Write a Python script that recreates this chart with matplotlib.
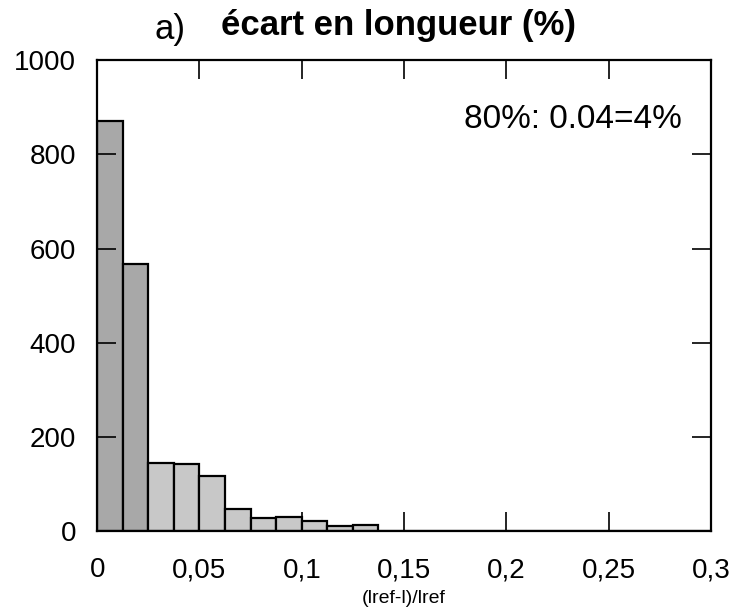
import matplotlib.pyplot as plt
import numpy as np

plt.rcParams['font.family'] = ['Liberation Sans', 'DejaVu Sans']

# histogram of relative length error, bin width 0.0125
bin_edges = np.arange(0, 0.3 + 0.0125 / 2, 0.0125)
counts = [870, 567, 144, 142, 118, 47, 28, 30, 21, 11, 14, 1,
          1, 1, 0, 0, 0, 1, 1, 0, 0, 1, 1, 0]
xticks = [0, 0.05, 0.1, 0.15, 0.2, 0.25, 0.3]
xticklabels = ['0', '0,05', '0,1', '0,15', '0,2', '0,25', '0,3']
yticks = [0, 200, 400, 600, 800, 1000]

fig = plt.figure(figsize=(7.36, 6.14), dpi=100)
ax = fig.add_axes([0.132, 0.135, 0.834, 0.767])

colors = ['#a8a8a8', '#a8a8a8'] + ['#c8c8c8'] * (len(counts) - 2)
ax.bar(bin_edges[:-1], counts, width=0.0125, align='edge',
       color=colors, edgecolor='black', linewidth=1.6)

ax.set_xlim(0, 0.3)
ax.set_ylim(0, 1000)
ax.set_xticks(xticks)
ax.set_xticklabels(xticklabels)
ax.set_yticks(yticks)
ax.tick_params(direction='in', length=14, width=1.2, labelsize=20,
               top=True, right=True)
ax.tick_params(axis='x', pad=19)
ax.tick_params(axis='y', pad=15)
for s in ax.spines.values():
    s.set_linewidth(1.6)

ax.set_xlabel('(lref-l)/lref', fontsize=14, labelpad=5)
fig.text(0.542, 0.958, 'écart en longueur (%)', fontsize=25,
         fontweight='bold', ha='center', va='center')
fig.text(0.231, 0.952, 'a)', fontsize=25, ha='center', va='center')
ax.text(0.953, 0.875, '80%: 0.04=4%', transform=ax.transAxes,
        ha='right', va='center', fontsize=24)

fig.savefig('out.png', dpi=100)
